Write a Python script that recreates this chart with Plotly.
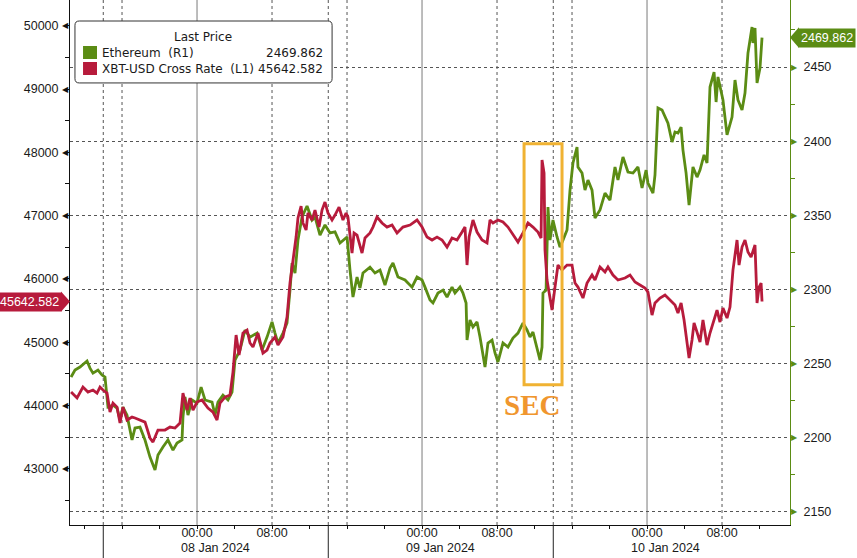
import plotly.graph_objects as go

# ---------------- data ----------------
eth_time = [
    "01-07 10:34", "01-07 10:59", "01-07 11:31", "01-07 12:16", "01-07 12:35", "01-07 12:54", "01-07 13:26", "01-07 13:52",
    "01-07 14:11", "01-07 14:24", "01-07 14:30", "01-07 15:02", "01-07 15:28", "01-07 15:47", "01-07 16:06", "01-07 16:32",
    "01-07 17:04", "01-07 17:23", "01-07 17:55", "01-07 18:27", "01-07 18:59", "01-07 19:31", "01-07 19:50", "01-07 20:22",
    "01-07 20:54", "01-07 21:26", "01-07 21:52", "01-07 22:24", "01-07 22:30", "01-07 22:43", "01-07 23:02", "01-07 23:28",
    "01-08 00:00", "01-08 00:26", "01-08 00:51", "01-08 01:36", "01-08 01:55", "01-08 02:14", "01-08 02:46", "01-08 03:18",
    "01-08 03:44", "01-08 04:03", "01-08 04:35", "01-08 05:07", "01-08 05:39", "01-08 06:24", "01-08 06:56", "01-08 07:28",
    "01-08 08:00", "01-08 08:19", "01-08 08:38", "01-08 09:10", "01-08 09:36", "01-08 09:55", "01-08 10:08", "01-08 10:27",
    "01-08 10:46", "01-08 11:12", "01-08 11:31", "01-08 11:44", "01-08 12:16", "01-08 12:35", "01-08 13:07", "01-08 13:39",
    "01-08 14:11", "01-08 14:43", "01-08 15:15", "01-08 15:34", "01-08 16:00", "01-08 16:19", "01-08 16:38", "01-08 17:04",
    "01-08 17:23", "01-08 17:42", "01-08 18:27", "01-08 18:59", "01-08 19:31", "01-08 20:03", "01-08 20:35", "01-08 20:54",
    "01-08 21:26", "01-08 22:11", "01-08 22:56", "01-08 23:28",
    "01-09 00:00", "01-09 00:19", "01-09 00:51", "01-09 01:10", "01-09 01:42", "01-09 02:14", "01-09 02:40", "01-09 03:12",
    "01-09 03:31", "01-09 04:03", "01-09 04:22", "01-09 04:42", "01-09 04:48", "01-09 05:07", "01-09 05:26", "01-09 05:52",
    "01-09 06:11", "01-09 06:43", "01-09 07:02", "01-09 07:28", "01-09 07:47", "01-09 08:06", "01-09 08:38", "01-09 09:10",
    "01-09 09:42", "01-09 10:14", "01-09 10:46", "01-09 11:12", "01-09 11:31", "01-09 11:50", "01-09 12:16", "01-09 12:35",
    "01-09 12:48", "01-09 12:54", "01-09 13:14", "01-09 13:26", "01-09 13:39", "01-09 13:58", "01-09 14:24", "01-09 14:43",
    "01-09 15:02", "01-09 15:28", "01-09 15:47", "01-09 16:06", "01-09 16:32", "01-09 16:38", "01-09 17:04", "01-09 17:23",
    "01-09 17:42", "01-09 18:08", "01-09 18:27", "01-09 18:59", "01-09 19:31", "01-09 20:03", "01-09 20:35", "01-09 20:54",
    "01-09 21:26", "01-09 21:58", "01-09 22:30", "01-09 23:02", "01-09 23:28", "01-09 23:54",
    "01-10 00:06", "01-10 00:38", "01-10 00:51", "01-10 01:10", "01-10 01:36", "01-10 01:55", "01-10 02:14", "01-10 02:40",
    "01-10 02:59", "01-10 03:18", "01-10 03:38", "01-10 03:50", "01-10 04:10", "01-10 04:29", "01-10 04:54", "01-10 05:20",
    "01-10 05:39", "01-10 06:05", "01-10 06:24", "01-10 06:43", "01-10 07:09", "01-10 07:22", "01-10 07:34", "01-10 08:06",
    "01-10 08:32", "01-10 09:04", "01-10 09:23", "01-10 09:42", "01-10 10:08", "01-10 10:27", "01-10 10:46", "01-10 11:12",
    "01-10 11:18", "01-10 11:31", "01-10 11:44", "01-10 12:03", "01-10 12:16",
]
eth_price = [
    2241.0, 2245.7, 2247.7, 2251.8, 2247.0, 2243.6, 2245.7, 2242.3, 2241.0, 2227.5, 2220.7, 2222.1, 2220.0, 2212.0, 2220.7, 2215.3,
    2198.5, 2206.6, 2207.2, 2198.5, 2187.0, 2178.3, 2188.4, 2193.8, 2198.5, 2191.7, 2196.5, 2198.5, 2214.0, 2227.5, 2215.3, 2225.5,
    2223.4, 2234.2, 2225.5, 2224.1, 2215.3, 2224.1, 2228.8, 2225.5, 2230.8, 2252.4, 2259.2, 2272.7, 2267.9, 2270.6, 2259.2, 2267.9,
    2278.1, 2270.6, 2263.9, 2270.6, 2277.4, 2299.6, 2317.8, 2311.1, 2333.3, 2348.9, 2353.6, 2356.3, 2346.8, 2348.9, 2336.7, 2343.5,
    2338.1, 2338.8, 2331.3, 2333.3, 2335.4, 2313.1, 2294.9, 2308.4, 2301.0, 2311.1, 2315.1, 2311.1, 2313.1, 2303.0, 2314.5, 2317.8,
    2308.4, 2306.4, 2301.6, 2308.4,
    2306.4, 2301.6, 2292.9, 2290.9, 2297.6, 2299.6, 2294.9, 2301.6, 2297.6, 2301.6, 2297.6, 2290.9, 2265.9, 2279.4, 2274.7, 2278.1,
    2268.0, 2247.7, 2263.9, 2265.9, 2257.2, 2251.1, 2263.9, 2261.2, 2267.3, 2270.6, 2277.4, 2272.7, 2268.0, 2271.3, 2261.2, 2252.4,
    2261.2, 2297.6, 2299.6, 2355.6, 2333.3, 2346.8, 2335.4, 2328.6, 2333.3, 2340.1, 2367.0, 2385.3, 2396.1, 2382.6, 2378.5, 2367.0,
    2373.8, 2367.0, 2348.2, 2353.6, 2365.0, 2360.3, 2382.6, 2373.8, 2389.3, 2379.2, 2378.5, 2382.6, 2368.4, 2380.5,
    2371.8, 2365.0, 2377.2, 2422.4, 2421.0, 2416.3, 2412.2, 2399.4, 2406.2, 2405.5, 2409.5, 2394.0, 2378.5, 2356.9, 2382.6, 2375.8,
    2380.5, 2390.7, 2385.3, 2436.5, 2446.6, 2426.4, 2443.3, 2427.8, 2404.2, 2416.3, 2441.2, 2427.8, 2421.0, 2432.5, 2459.4, 2477.0,
    2466.2, 2476.3, 2439.2, 2449.3, 2469.862,
]

xbt_time = [
    "01-07 10:34", "01-07 11:12", "01-07 11:50", "01-07 12:22", "01-07 12:54", "01-07 13:20", "01-07 13:39", "01-07 13:58",
    "01-07 14:24", "01-07 14:43", "01-07 15:02", "01-07 15:28", "01-07 15:47", "01-07 16:06", "01-07 16:32", "01-07 17:04",
    "01-07 17:23", "01-07 17:55", "01-07 18:27", "01-07 18:59", "01-07 19:18", "01-07 19:50", "01-07 20:35", "01-07 21:07",
    "01-07 21:39", "01-07 22:11", "01-07 22:30", "01-07 22:56", "01-07 23:15", "01-07 23:34",
    "01-08 00:00", "01-08 00:32", "01-08 01:10", "01-08 01:42", "01-08 02:08", "01-08 02:27", "01-08 02:59", "01-08 03:31",
    "01-08 03:50", "01-08 04:10", "01-08 04:29", "01-08 04:54", "01-08 05:20", "01-08 05:39", "01-08 05:58", "01-08 06:30",
    "01-08 07:02", "01-08 07:28", "01-08 07:47", "01-08 08:19", "01-08 08:38", "01-08 09:10", "01-08 09:36", "01-08 09:55",
    "01-08 10:14", "01-08 10:34", "01-08 10:46", "01-08 11:06", "01-08 11:18", "01-08 11:38", "01-08 11:50", "01-08 12:16",
    "01-08 12:35", "01-08 13:01", "01-08 13:20", "01-08 13:39", "01-08 13:58", "01-08 14:24", "01-08 14:43", "01-08 15:09",
    "01-08 15:34", "01-08 15:54", "01-08 16:06", "01-08 16:32", "01-08 16:45", "01-08 17:04", "01-08 17:36", "01-08 17:55",
    "01-08 18:27", "01-08 18:46", "01-08 19:12", "01-08 19:44", "01-08 20:16", "01-08 20:48", "01-08 21:20", "01-08 21:58",
    "01-08 22:43", "01-08 23:28",
    "01-09 00:00", "01-09 00:32", "01-09 01:04", "01-09 01:36", "01-09 02:08", "01-09 02:40", "01-09 03:12", "01-09 03:44",
    "01-09 04:16", "01-09 04:35", "01-09 04:48", "01-09 05:01", "01-09 05:26", "01-09 05:52", "01-09 06:24", "01-09 06:56",
    "01-09 07:15", "01-09 07:34", "01-09 08:06", "01-09 08:38", "01-09 09:10", "01-09 09:42", "01-09 10:14", "01-09 10:46",
    "01-09 11:18", "01-09 11:50", "01-09 12:22", "01-09 12:42", "01-09 12:48", "01-09 13:01", "01-09 13:07", "01-09 13:20",
    "01-09 13:39", "01-09 13:52", "01-09 14:11", "01-09 14:30", "01-09 14:56", "01-09 15:28", "01-09 16:00", "01-09 16:19",
    "01-09 16:38", "01-09 17:10", "01-09 17:36", "01-09 18:08", "01-09 18:27", "01-09 18:59", "01-09 19:31", "01-09 19:50",
    "01-09 20:22", "01-09 20:54", "01-09 21:39", "01-09 22:11", "01-09 22:43", "01-09 23:15", "01-09 23:47",
    "01-10 00:06", "01-10 00:32", "01-10 00:51", "01-10 01:23", "01-10 01:55", "01-10 02:27", "01-10 02:59", "01-10 03:18",
    "01-10 03:38", "01-10 03:57", "01-10 04:16", "01-10 04:29", "01-10 04:48", "01-10 05:01", "01-10 05:20", "01-10 05:39",
    "01-10 05:58", "01-10 06:24", "01-10 06:43", "01-10 07:02", "01-10 07:28", "01-10 07:47", "01-10 08:06", "01-10 08:32",
    "01-10 08:51", "01-10 09:10", "01-10 09:36", "01-10 09:49", "01-10 10:08", "01-10 10:27", "01-10 10:46", "01-10 11:06",
    "01-10 11:31", "01-10 11:44", "01-10 11:57", "01-10 12:10", "01-10 12:16",
]
xbt_price = [
    44212, 44118, 44291, 44212, 44244, 44197, 44291, 44244, 44197, 43896, 44039, 43975, 43723, 43975, 43770, 43817,
    43802, 43770, 43738, 43486, 43422, 43612, 43612, 43659, 43644, 43723, 44197, 43928, 44118, 43928,
    44054, 44086, 43960, 43896, 43770, 44039, 44133, 44165, 44528, 45113, 44797, 45145, 45192, 44987, 44924, 45145,
    44829, 44876, 44987, 45081, 44955, 45081, 45397, 45935, 46251, 46661, 46962, 47151, 46883, 46772, 47041, 46930,
    47088, 46819, 47088, 47214, 47041, 46930, 47009, 47135, 46930, 47041, 46977, 46409, 46725, 46693, 46409, 46646,
    46725, 46819, 46977, 46883, 46819, 46851, 46725, 46819, 46851, 46930,
    46819, 46661, 46614, 46661, 46614, 46503, 46646, 46614, 46740, 46819, 46219, 46661, 46930, 46740, 46614, 46567,
    46930, 46883, 46930, 46898, 46819, 46693, 46582, 46725, 46883, 46819, 46740, 46646, 47878, 47673, 46456, 45982,
    45666, 45508, 45871, 46219, 46140, 46219, 46219, 45935, 45871, 45698, 45935, 46061, 45982, 46187, 46108, 46187,
    46061, 45982, 46014, 46061, 45950, 45903, 45856,
    45792, 45429, 45619, 45698, 45745, 45666, 45587, 45461, 45619, 45350, 45034, 44750, 45034, 45303, 45160, 45002,
    45350, 44955, 45145, 45303, 45508, 45318, 45540, 45382, 45555, 46140, 46614, 46219, 46503, 46614, 46424, 46345,
    46535, 45619, 45871, 45935, 45642.582,
]

left_ticks = [43000, 44000, 45000, 46000, 47000, 48000, 49000, 50000]
right_ticks = [2150, 2200, 2250, 2300, 2350, 2400, 2450]
time_ticks = ["01-08 00:00", "01-08 08:00", "01-09 00:00", "01-09 08:00", "01-10 00:00", "01-10 08:00"]
time_tick_text = ["00:00", "08:00", "00:00", "08:00", "00:00", "08:00"]
date_labels = ["08 Jan 2024", "09 Jan 2024", "10 Jan 2024"]
date_label_at = ["01-08 02:00", "01-09 02:00", "01-10 02:00"]
midnight_lines = ["01-08 00:00", "01-09 00:00", "01-10 00:00"]
dotted_lines = ["01-07 14:00", "01-07 16:00", "01-08 08:00", "01-08 14:00", "01-08 16:00",
                "01-09 08:00", "01-09 14:00", "01-09 16:00", "01-10 08:00"]
session_breaks = ["01-07 14:00", "01-08 14:00", "01-09 14:00"]
x_range = ["01-07 10:27", "01-10 15:15"]
sec_window = ["01-09 10:53", "01-09 14:56"]
sec_label_at = "01-09 11:44"

eth_name = "Ethereum\u00a0\u00a0(R1)"
xbt_name = "XBT-USD Cross Rate\u00a0\u00a0(L1)"

# ---------------- styling ----------------
ETH_COLOR = "#5b8c14"
XBT_COLOR = "#b71b3c"
SEC_BOX = "#f0b232"
SEC_TEXT = "#f0962e"
TICK_FONT = dict(family="Liberation Sans, Arial, sans-serif", size=12.5, color="#1a1a1a")
XTICK_FONT = dict(family="Liberation Sans, Arial, sans-serif", size=12.5, color="#1a1a1a")
LEG_FONT = dict(family="DejaVu Sans, Verdana, sans-serif", size=12, color="#1a1a1a")
TAG_FONT = dict(family="Liberation Sans, Arial, sans-serif", size=12.5, color="white")


def ts(s):
    return "2024-" + s


fig = go.Figure()
fig.add_trace(go.Scatter(x=[ts(t) for t in eth_time], y=eth_price, mode="lines", yaxis="y",
                         line=dict(color=ETH_COLOR, width=2.8), name=eth_name, hoverinfo="skip"))
fig.add_trace(go.Scatter(x=[ts(t) for t in xbt_time], y=xbt_price, mode="lines", yaxis="y2",
                         line=dict(color=XBT_COLOR, width=2.8), name=xbt_name, hoverinfo="skip"))

shapes = []
for t in midnight_lines:
    shapes.append(dict(type="line", xref="x", yref="paper", x0=ts(t), x1=ts(t), y0=0, y1=1,
                       line=dict(color="#7a7a7a", width=1), layer="below"))
for t in dotted_lines:
    shapes.append(dict(type="line", xref="x", yref="paper", x0=ts(t), x1=ts(t), y0=0, y1=1,
                       line=dict(color="#555555", width=1, dash="dot"), layer="below"))
for t in session_breaks:
    shapes.append(dict(type="line", xref="x", yref="paper", x0=ts(t), x1=ts(t), y0=0, y1=-0.07,
                       line=dict(color="#222222", width=1)))

# SEC highlight box
shapes.append(dict(type="rect", xref="x", yref="paper", x0=ts(sec_window[0]), x1=ts(sec_window[1]),
                   y0=0.267, y1=0.726, line=dict(color=SEC_BOX, width=3)))

# legend box (rounded)
bx0, bx1, by0, by1, rx, ry = 0.0069, 0.364, 0.842, 0.960, 0.006, 0.008
shapes.append(dict(type="path", xref="paper", yref="paper",
                   path=(f"M {bx0+rx},{by0} L {bx1-rx},{by0} Q {bx1},{by0} {bx1},{by0+ry} "
                         f"L {bx1},{by1-ry} Q {bx1},{by1} {bx1-rx},{by1} L {bx0+rx},{by1} "
                         f"Q {bx0},{by1} {bx0},{by1-ry} L {bx0},{by0+ry} Q {bx0},{by0} {bx0+rx},{by0} Z"),
                   fillcolor="white", line=dict(color="#333333", width=1)))
shapes.append(dict(type="rect", xref="paper", yref="paper", x0=0.0181, x1=0.0375, y0=0.8876, y1=0.9124,
                   fillcolor=ETH_COLOR, line=dict(width=0)))
shapes.append(dict(type="rect", xref="paper", yref="paper", x0=0.0181, x1=0.0375, y0=0.8571, y1=0.8819,
                   fillcolor=XBT_COLOR, line=dict(width=0)))

# last price tag pointers
xv = xbt_price[-1]
ev = eth_price[-1]
shapes.append(dict(type="path", xref="paper", yref="y2",
                   path=f"M -0.0125,{xv+160} L 0,{xv} L -0.0125,{xv-160} Z",
                   fillcolor=XBT_COLOR, line=dict(width=0)))
shapes.append(dict(type="path", xref="paper", yref="y",
                   path=f"M 1.0125,{ev+7} L 1.0,{ev} L 1.0125,{ev-7} Z",
                   fillcolor=ETH_COLOR, line=dict(width=0)))

annotations = []
for v in left_ticks:
    annotations.append(dict(x=0, xref="paper", y=v, yref="y2", text="◀", showarrow=False,
                            xanchor="right", yanchor="middle", xshift=1,
                            font=dict(size=8, color="#111111", family="DejaVu Sans")))
for v in right_ticks:
    annotations.append(dict(x=1, xref="paper", y=v, yref="y", text="▶", showarrow=False,
                            xanchor="left", yanchor="middle", xshift=-1,
                            font=dict(size=8, color=ETH_COLOR, family="DejaVu Sans")))
for lab, t in zip(date_labels, date_label_at):
    annotations.append(dict(x=ts(t), xref="x", y=-0.044, yref="paper", text=lab, showarrow=False,
                            xanchor="center", yanchor="middle", font=XTICK_FONT))

annotations.append(dict(x=0, xref="paper", y=xv, yref="y2", text=f"{xv:.3f}", showarrow=False,
                        xanchor="right", yanchor="middle", xshift=-8, bgcolor=XBT_COLOR, borderpad=2,
                        font=TAG_FONT))
annotations.append(dict(x=1, xref="paper", y=ev, yref="y", text=f"{ev:.3f}", showarrow=False,
                        xanchor="left", yanchor="middle", xshift=8, bgcolor=ETH_COLOR, borderpad=2,
                        font=TAG_FONT))

annotations.append(dict(x=ts(sec_label_at), xref="x", y=0.229, yref="paper", text="<b>SEC</b>", showarrow=False,
                        xanchor="center", yanchor="middle",
                        font=dict(family="Liberation Serif, DejaVu Serif, serif", size=29, color=SEC_TEXT)))

# legend texts
annotations.append(dict(x=0.185, xref="paper", y=0.9295, yref="paper", text="Last Price", showarrow=False,
                        xanchor="center", yanchor="middle", font=LEG_FONT))
annotations.append(dict(x=0.0417, xref="paper", y=0.899, yref="paper", text=eth_name, showarrow=False,
                        xanchor="left", yanchor="middle", font=LEG_FONT))
annotations.append(dict(x=0.0417, xref="paper", y=0.8686, yref="paper", text=xbt_name, showarrow=False,
                        xanchor="left", yanchor="middle", font=LEG_FONT))
annotations.append(dict(x=0.354, xref="paper", y=0.899, yref="paper", text=f"{ev:.3f}", showarrow=False,
                        xanchor="right", yanchor="middle", font=LEG_FONT))
annotations.append(dict(x=0.354, xref="paper", y=0.8686, yref="paper", text=f"{xv:.3f}", showarrow=False,
                        xanchor="right", yanchor="middle", font=LEG_FONT))

fig.update_layout(
    width=857, height=558,
    margin=dict(l=70, r=67, t=0, b=33),
    paper_bgcolor="white", plot_bgcolor="white",
    showlegend=False, hovermode=False,
    shapes=shapes, annotations=annotations,
    xaxis=dict(type="date", range=[ts(x_range[0]), ts(x_range[1])],
               tickmode="array", tickvals=[ts(t) for t in time_ticks], ticktext=time_tick_text,
               showgrid=False, zeroline=False, showline=True, linecolor="#111111", linewidth=1,
               ticks="outside", ticklen=3, tickcolor="#111111", tickfont=XTICK_FONT,
               ticklabelstandoff=-7,
               minor=dict(ticks="outside", ticklen=3, dtick=4 * 3600 * 1000, tick0="2024-01-07 00:00",
                          tickcolor="#111111", showgrid=False)),
    yaxis=dict(side="right", range=[2141.2, 2495.2], tickmode="array", tickvals=right_ticks,
               ticktext=[str(v) for v in right_ticks],
               showgrid=True, gridcolor="#555555", griddash="dot", gridwidth=1,
               zeroline=False, showline=True, linecolor=ETH_COLOR, linewidth=1,
               ticks="outside", ticklen=10, tickcolor="rgba(0,0,0,0)", tickfont=TICK_FONT,
               minor=dict(ticks="outside", ticklen=4, dtick=25, tick0=2150, tickcolor=ETH_COLOR, showgrid=False)),
    yaxis2=dict(side="left", overlaying="y", range=[42112, 50406], tickmode="array", tickvals=left_ticks,
                ticktext=[str(v) for v in left_ticks],
                showgrid=False, zeroline=False, showline=True, linecolor="#111111", linewidth=1,
                ticks="outside", ticklen=8, tickcolor="rgba(0,0,0,0)", tickfont=TICK_FONT,
                minor=dict(ticks="outside", ticklen=4, dtick=500, tick0=42000, tickcolor="#111111", showgrid=False)),
)

fig.write_html("out.html", config={"displayModeBar": False},
               post_script="document.body.style.margin='0';")
